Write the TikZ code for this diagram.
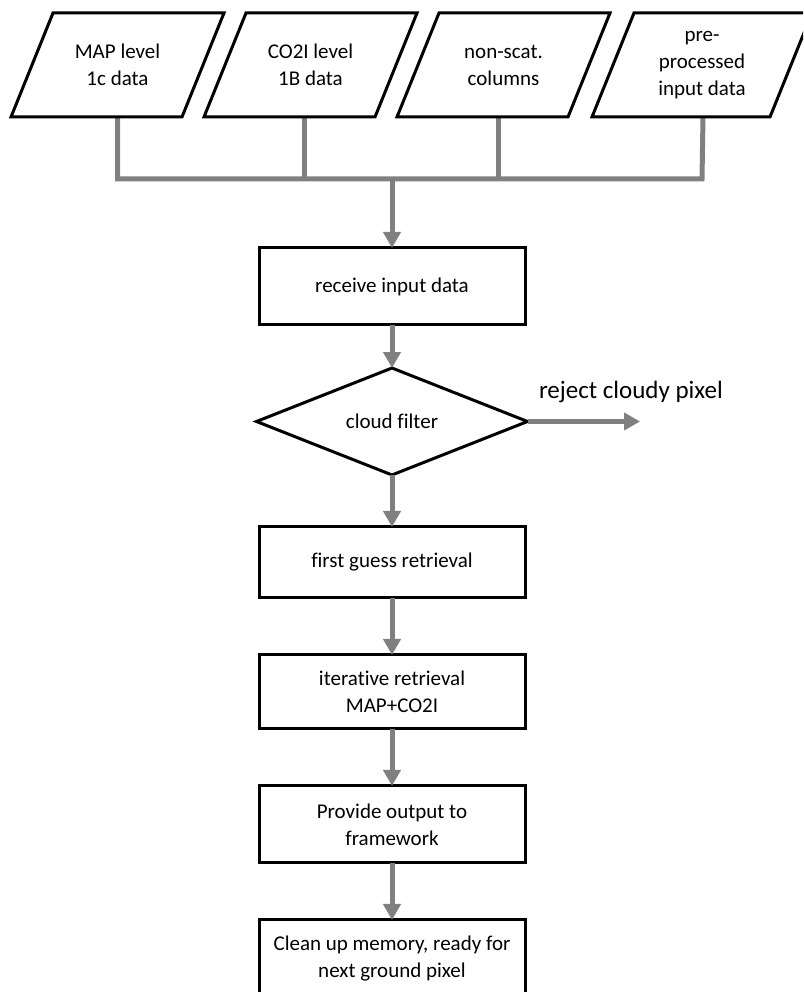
\documentclass[tikz,border=0pt]{standalone}
\usepackage{fontspec}
\setmainfont{Carlito}[Ligatures={NoCommon}]
\usetikzlibrary{arrows.meta,shapes.geometric}
\definecolor{flowgray}{HTML}{808080}
\begin{document}
\begin{tikzpicture}[x=1pt,y=1pt,
  every node/.style={font=\fontsize{21}{27}\selectfont, inner sep=0pt, outer sep=0pt, align=center},
  databox/.style={minimum height=104pt, minimum width=171pt},
  stepbox/.style={draw=black, line width=3pt, minimum width=266pt, fill=white},
  decision/.style={diamond, draw=black, line width=3pt, minimum width=271pt, minimum height=85pt},
  outline/.style={draw=black, line width=3pt, line join=miter},
  flow/.style={draw=flowgray, line width=5pt, line join=miter},
  flowarrow/.style={flow, -{Triangle[length=16pt,width=17pt]}}
]
\clip (0,0) rectangle (803,992);

% input data (parallelograms: text nodes, outlines drawn below)
\node[databox] (in1) at (117.5,927) {MAP level\\1c data};
\node[databox] (in2) at (310.5,927) {CO2I level\\1B data};
\node[databox] (in3) at (503.5,927) {non-scat.\\columns};
\node[databox, minimum width=178pt] (in4) at (702,927) {pre-\\processed\\input data};

% processing steps
\node[stepbox, minimum height=77pt] (recv) at (392,705.5) {receive input data};
\node[decision] (cloud) at (392,570.5) {cloud filter};
\node[stepbox, minimum height=71pt] (first) at (392,429.5) {first guess retrieval};
\node[stepbox, minimum height=74pt] (iter) at (392,300) {iterative retrieval\\MAP+CO2I};
\node[stepbox, minimum height=77pt] (prov) at (392,167.5) {Provide output to\\framework};
\node[stepbox, minimum height=77pt] (clean) at (392,33.5) {Clean up memory, ready for\\next ground pixel};

\node[anchor=base west, font=\fontsize{25}{30}\selectfont] (rejtxt) at (539,593) {reject cloudy pixel};
\coordinate (rej) at (640,570.5);
\coordinate (bus) at (0,813);

% collecting bus from the inputs
\draw[flow] (in1.south) -- (in1.south |- bus) -- (in4.south |- bus) -- ([xshift=1pt]in4.south);
\draw[flow] ([xshift=-6.5pt]in2.south) -- ([xshift=-6.5pt]in2.south |- bus);
\draw[flow] ([xshift=-5.5pt]in3.south) -- ([xshift=-5.5pt]in3.south |- bus);
\draw[flowarrow] (recv.north |- bus) -- (recv.north);

% parallelogram outlines
\foreach \n in {in1,in2,in3,in4}
  \draw[outline] ([xshift=-21pt]\n.south west) -- ([xshift=-21pt]\n.south east)
    -- ([xshift=21pt]\n.north east) -- ([xshift=21pt]\n.north west) -- cycle;

% main flow
\draw[flowarrow] (recv.south) -- (cloud.north);
\draw[flowarrow] (cloud.east) -- (rej);
\draw[flowarrow] (cloud.south) -- (first.north);
\draw[flowarrow] (first.south) -- (iter.north);
\draw[flowarrow] (iter.south) -- (prov.north);
\draw[flowarrow] (prov.south) -- (clean.north);
\end{tikzpicture}
\end{document}
